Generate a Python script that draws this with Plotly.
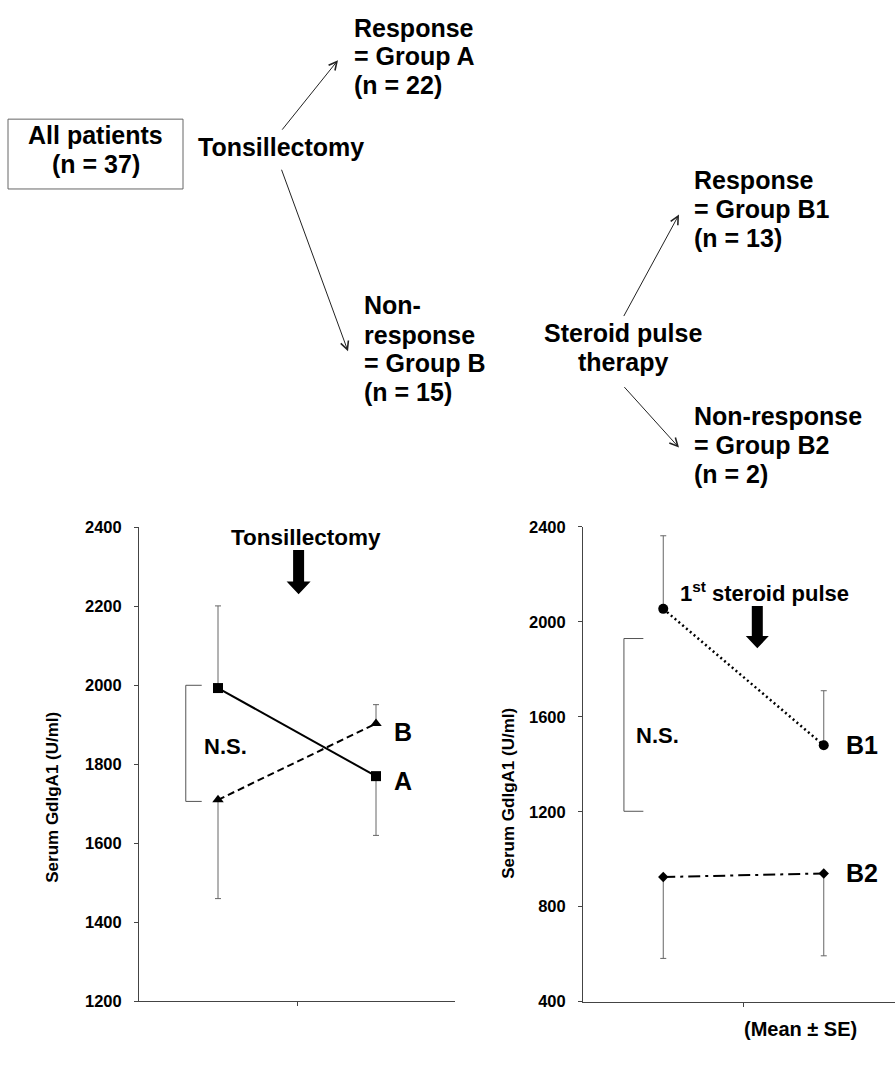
import plotly.graph_objects as go

# ---------------- data ----------------
time_points = [0.5, 1.5]          # before / after treatment
groupA_mean = [1993, 1770]
groupA_se_up = [208, 0]
groupA_se_down = [0, 150]
groupB_mean = [1710, 1903]
groupB_se_up = [0, 48]
groupB_se_down = [250, 0]
groupB1_mean = [2055, 1480]
groupB1_se_up = [308, 230]
groupB1_se_down = [0, 0]
groupB2_mean = [925, 940]
groupB2_se_up = [0, 0]
groupB2_se_down = [343, 347]
left_ticks = [1200, 1400, 1600, 1800, 2000, 2200, 2400]
right_ticks = [400, 800, 1200, 1600, 2000, 2400]

W, H = 895, 1088
FONT = "Liberation Sans, Arial, sans-serif"


def px(x):
    return x / W


def py(y):
    return 1 - y / H


fig = go.Figure()

ERR = dict(color="#666", thickness=1, width=3)


def add_series(xa, ya, y, up, down, symbol, msize, dash, lw):
    fig.add_trace(go.Scatter(
        x=time_points, y=y, xaxis=xa, yaxis=ya, mode="lines+markers",
        line=dict(color="black", width=lw, dash=dash),
        marker=dict(symbol=symbol, size=msize, color="black"),
        error_y=dict(type="data", symmetric=False, array=up, arrayminus=down, **ERR),
        showlegend=False, cliponaxis=False,
    ))


add_series("x", "y", groupA_mean, groupA_se_up, groupA_se_down, "square", 10, "solid", 2)
add_series("x", "y", groupB_mean, groupB_se_up, groupB_se_down, "triangle-up", 10, "7px,4px", 2)
add_series("x2", "y2", groupB1_mean, groupB1_se_up, groupB1_se_down, "circle", 10, "2px,3px", 2.5)
add_series("x2", "y2", groupB2_mean, groupB2_se_up, groupB2_se_down, "diamond", 8, "12px,5px,3px,5px", 2)

axis_common = dict(showline=True, linecolor="#444", linewidth=1, showgrid=False,
                   zeroline=False, ticks="outside", ticklen=4, tickcolor="#444",
                   fixedrange=True)
tickfont = dict(family=FONT, size=16.5, color="black", weight="bold")

right_xmax = (895 - 583) / 160.5

fig.update_layout(
    width=W, height=H, margin=dict(l=0, r=0, t=0, b=0),
    paper_bgcolor="white", plot_bgcolor="white",
    xaxis=dict(domain=[px(139), px(455)], range=[0, 2], anchor="y",
               tickvals=[1], ticktext=[""], **axis_common),
    yaxis=dict(domain=[py(1009), py(527)], range=[1200, 2400], anchor="x",
               tickvals=left_ticks, tickfont=tickfont, ticklabelstandoff=9,
               **axis_common),
    xaxis2=dict(domain=[px(583), 1.0], range=[0, right_xmax], anchor="y2",
                tickvals=[1], ticktext=[""], **axis_common),
    yaxis2=dict(domain=[py(1009.3), py(526.7)], range=[400, 2400], anchor="x2",
                tickvals=right_ticks, tickfont=tickfont, ticklabelstandoff=9,
                **axis_common),
)

shapes = []
annos = []


def text(x, y, s, size, xanchor="center", bold=True, xref="paper", yref="paper",
         textangle=0):
    if xref == "paper":
        x = px(x)
    if yref == "paper":
        y = py(y)
    annos.append(dict(x=x, y=y, xref=xref, yref=yref, text=s, showarrow=False,
                      xanchor=xanchor, yanchor="middle", textangle=textangle,
                      font=dict(family=FONT, size=size, color="black",
                                weight="bold" if bold else "normal")))


def lines(x, ys, texts, size, xanchor="left"):
    for y, s in zip(ys, texts):
        text(x, y - 6, s, size, xanchor=xanchor)


def thin_arrow(x0, y0, x1, y1):
    annos.append(dict(x=px(x1), y=py(y1), xref="paper", yref="paper", text="",
                      showarrow=True, ax=x0 - x1, ay=y0 - y1, axref="pixel", ayref="pixel",
                      arrowhead=5, arrowsize=1.6, arrowwidth=1, arrowcolor="#222",
                      standoff=0, startstandoff=0))


def block_arrow(cx, top, head, tip, sw, hw):
    pts = [(cx - sw / 2, top), (cx + sw / 2, top), (cx + sw / 2, head), (cx + hw / 2, head),
           (cx, tip), (cx - hw / 2, head), (cx - sw / 2, head)]
    path = "M " + " L ".join(f"{px(a):.5f},{py(b):.5f}" for a, b in pts) + " Z"
    shapes.append(dict(type="path", xref="paper", yref="paper", path=path,
                       fillcolor="black", line=dict(width=0)))


# ---- flowchart ----
FS = 25
shapes.append(dict(type="rect", xref="paper", yref="paper", x0=px(8), x1=px(183),
                   y0=py(183), y1=py(112), line=dict(color="#666", width=1)))
lines(95.5, [134, 164], ["All patients", "(n = 37)"], FS, xanchor="center")
lines(281, [146], ["Tonsillectomy"], FS, xanchor="center")
thin_arrow(281, 123, 338, 52)
thin_arrow(281, 165, 348, 348)
lines(352, [25, 54, 83], ["Response", "= Group A", "(n = 22)"], FS)
lines(362, [307, 337, 366, 395], ["Non-", "response", "= Group B", "(n = 15)"], FS)
lines(623, [335, 365], ["Steroid pulse", "therapy"], FS, xanchor="center")
thin_arrow(623, 312, 679, 209)
thin_arrow(623, 384, 679, 446)
lines(692, [180, 209, 239], ["Response", "= Group B1", "(n = 13)"], FS)
lines(692, [420, 449, 479], ["Non-response", "= Group B2", "(n = 2)"], FS)

# ---- charts: labels and arrows ----
text(53, 802, "Serum GdIgA1 (U/ml)", 17, textangle=-90)
text(509, 798, "Serum GdIgA1 (U/ml)", 17, textangle=-90)
text(305.5, 537, "Tonsillectomy", 22.5)
block_arrow(298.6, 550, 582, 595, 11, 24)
text(764.5, 593, "1<sup>st</sup> steroid pulse", 22)
block_arrow(757.3, 607, 637.6, 650, 11, 23)
text(800, 1037, "(Mean ± SE)", 20)

# brackets (data coordinates)
shapes.append(dict(type="path", xref="x", yref="y",
                   path="M 0.397,2000 L 0.296,2000 L 0.296,1706 L 0.397,1706",
                   line=dict(color="#555", width=1)))
shapes.append(dict(type="path", xref="x2", yref="y2",
                   path="M 0.376,1930 L 0.255,1930 L 0.255,1202 L 0.376,1202",
                   line=dict(color="#555", width=1)))
text(0.55, 1845, "N.S.", 22, xref="x", yref="y")
text(0.467, 1520, "N.S.", 22, xref="x2", yref="y2")
text(1.67, 1758, "A", 25, xref="x", yref="y")
text(1.67, 1882, "B", 25, xref="x", yref="y")
text(1.738, 1483, "B1", 25, xref="x2", yref="y2")
text(1.738, 944, "B2", 25, xref="x2", yref="y2")

fig.update_layout(shapes=shapes, annotations=annos)
fig.write_html("out.html")
